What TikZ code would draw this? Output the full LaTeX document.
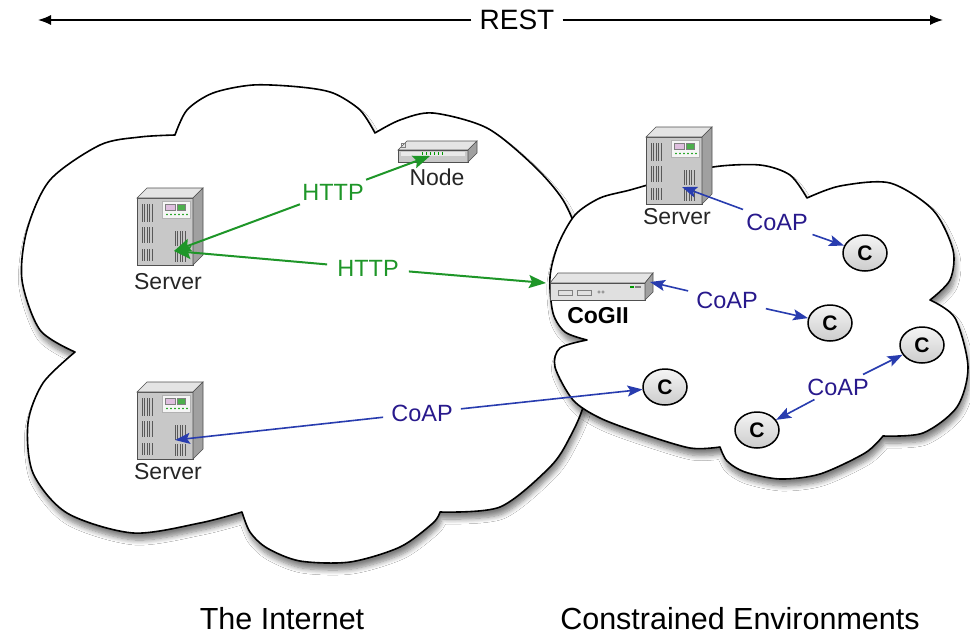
\documentclass[tikz,border=0pt]{standalone}
\usepackage{fontspec}
\setmainfont{Liberation Sans}
\usetikzlibrary{arrows.meta,shapes.geometric,shadows.blur}
\definecolor{httpgreen}{RGB}{30,150,40}
\definecolor{coapline}{RGB}{40,60,175}
\definecolor{coaptext}{RGB}{40,25,140}
\definecolor{srvfront}{RGB}{200,200,200}
\definecolor{srvtop}{RGB}{228,228,228}
\definecolor{srvside}{RGB}{160,160,160}
\definecolor{srvedge}{RGB}{80,80,80}
\tikzset{
  cloudshape/.style={draw=black, line width=1.6pt, fill=white, line join=round,
    blur shadow={shadow xshift=2pt, shadow yshift=-7pt, shadow blur steps=8, shadow opacity=50, shadow blur radius=5pt}},
  devlabel/.style={font=\fontsize{23}{26}\selectfont, text=black!85},
  httplab/.style={font=\fontsize{23.5}{26}\selectfont, text=httpgreen, inner xsep=10pt, inner ysep=4pt},
  coaplab/.style={font=\fontsize{23.5}{26}\selectfont, text=coaptext, inner xsep=8pt, inner ysep=4pt},
  garrow/.style={draw=httpgreen, line width=2pt, -{Stealth[length=17pt,width=13pt,inset=3pt]}},
  barrow/.style={draw=coapline, line width=1.6pt, -{Stealth[length=15pt,width=11pt,inset=3pt]}},
  restarrow/.style={draw=black, line width=1.4pt, -{Latex[length=13pt,width=10pt]}},
  captext/.style={font=\fontsize{30.5}{32}\selectfont, anchor=base, inner sep=0pt},
  cnode/.style={ellipse, draw=black, line width=1.5pt, top color=gray!8, bottom color=gray!40,
    minimum width=44pt, minimum height=36pt, inner sep=0pt, font=\bfseries\fontsize{21}{21}\selectfont},
  servericon/.pic={
    \filldraw[fill=srvfront, draw=srvedge, line width=0.6pt] (0,0) rectangle (56,67);
    \filldraw[fill=srvtop, draw=srvedge, line width=0.6pt] (0,0) -- (10,-10) -- (66,-10) -- (56,0) -- cycle;
    \filldraw[fill=srvside, draw=srvedge, line width=0.6pt] (56,0) -- (66,-10) -- (66,57) -- (56,67) -- cycle;
    \filldraw[fill=gray!8, draw=gray!60, line width=0.4pt] (25,3) rectangle (53,20);
    \filldraw[fill=violet!25, draw=gray, line width=0.4pt] (28,6) rectangle (38,12);
    \filldraw[fill=green!55!black!70, draw=gray, line width=0.4pt] (40,6) rectangle (48,12);
    \foreach \x in {30,34,...,50} \fill[green!60!black] (\x,16.5) circle[radius=0.9pt];
    \foreach \y/\h in {6/18, 29/16, 51/12} {
      \foreach \x in {5,7.5,10,12.5,15} \draw[black!65, line width=0.5pt] (\x,\y) -- ++(0,\h);
    }
    \foreach \y/\h in {33/15, 52/12} {
      \foreach \x in {38,40.5,43,45.5,48} \draw[black!65, line width=0.5pt] (\x,\y) -- ++(0,\h);
    }
  },
  routericon/.pic={
    \filldraw[fill=srvtop, draw=srvedge, line width=0.6pt] (0,9) -- (9,0) -- (79,0) -- (70,9) -- cycle;
    \filldraw[fill=srvfront, draw=srvedge, line width=0.6pt] (0,9) rectangle (70,21);
    \filldraw[fill=srvside, draw=srvedge, line width=0.6pt] (70,9) -- (79,0) -- (79,12) -- (70,21) -- cycle;
    \fill[white, opacity=0.6] (3,11) rectangle (67,15);
    \foreach \x in {24,28,...,44} \draw[green!60!black, line width=0.8pt] (\x,11) -- ++(0,3);
    \draw[gray, line width=0.4pt] (3,2.5) rectangle (7,6);
  },
  gatewayicon/.pic={
    \filldraw[fill=srvtop, draw=srvedge, line width=0.6pt] (0,10) -- (8,0) -- (103,0) -- (95,10) -- cycle;
    \filldraw[fill=black!12, draw=srvedge, line width=0.6pt] (0,10) rectangle (95,27);
    \filldraw[fill=srvside, draw=srvedge, line width=0.6pt] (95,10) -- (103,0) -- (103,19) -- (95,27) -- cycle;
    \draw[gray, line width=0.5pt] (8,17) rectangle (22,22) (27,17) rectangle (41,22);
    \draw[gray, line width=0.5pt] (49,19) circle[radius=1.3pt] (53,19) circle[radius=1.3pt];
    \fill[green!60!black] (80,12.5) rectangle (84,14.5);
    \fill[gray] (85,12.5) rectangle (91,14.5);
  }
}
\begin{document}
\begin{tikzpicture}[x=1pt,y=-1pt]
\useasboundingbox (0,0) rectangle (970,635);
\fill[white] (0,0) rectangle (970,635);

% REST arrow
\node[font=\fontsize{28}{30}\selectfont, inner xsep=8pt] (rest) at (517,20) {REST};
\coordinate (restL) at (38,20);
\coordinate (restR) at (943,20);
\draw[restarrow] (rest) -- (restL);
\draw[restarrow] (rest) -- (restR);

% The Internet cloud
\path[cloudshape] plot[smooth] coordinates {(175,135) (187,110) (213,93) (253,85) (300,87) (333,93) (360,110) (375,133)}
 -- plot[smooth] coordinates {(375,133) (400,120) (433,113) (487,128) (533,165) (563,200) (580,240) (592,290) (595,330)}
 -- plot[smooth] coordinates {(595,330) (585,400) (570,437) (550,467) (500,507) (440,512)}
 -- plot[smooth] coordinates {(440,512) (433,523) (400,547) (350,562) (300,561) (267,548) (250,532) (242,512)}
 -- plot[smooth] coordinates {(242,512) (200,523) (133,533) (67,513) (33,473) (28,423) (43,383) (75,352)}
 -- plot[smooth] coordinates {(75,352) (40,330) (22,280) (27,230) (50,180) (100,145) (140,137) (175,135)}
 -- cycle;

% Constrained environments cloud
\path[cloudshape] plot[smooth] coordinates {(587,340) (565,332) (553,313) (550,277) (558,245) (575,215) (600,198) (630,190) (665,180) (713,167) (760,165) (790,175) (807,198)}
 -- plot[smooth] coordinates {(807,198) (840,186) (890,183) (933,210) (953,250) (950,280) (930,300)}
 -- plot[smooth] coordinates {(930,300) (955,318) (968,367) (957,407) (923,433) (883,436)}
 -- plot[smooth] coordinates {(883,436) (865,453) (820,474) (780,479) (745,472) (727,461) (720,447)}
 -- plot[smooth] coordinates {(720,447) (690,448) (640,433) (600,418) (573,400) (555,367) (560,348) (587,340)}
 -- cycle;

% devices
\pic (srvA) at (137,198) {servericon};
\pic (srvB) at (137,392) {servericon};
\pic (srvC) at (646,137) {servericon};
\pic (rtr) at (398,141) {routericon};
\pic (gw) at (550,273) {gatewayicon};

\node[devlabel] (srvAlab) at (168,282) {Server};
\node[devlabel] (srvBlab) at (168,472) {Server};
\node[devlabel] (srvClab) at (677,217) {Server};
\node[devlabel] (rtrlab) at (437,177) {Node};
\node[devlabel, font=\bfseries\fontsize{23}{26}\selectfont, text=black] (gwlab) at (598,316) {CoGII};

% constrained nodes
\node[cnode] (c1) at (865,253) {C};
\node[cnode] (c2) at (830,323) {C};
\node[cnode] (c3) at (665,387) {C};
\node[cnode] (c4) at (922,345) {C};
\node[cnode] (c5) at (757,430) {C};

% connector end points on icons
\coordinate (srvAtip) at (174,251);
\coordinate (srvBtip) at (175,440);
\coordinate (srvCtip) at (682,187);
\coordinate (rtrtip) at (430,156);
\coordinate (gwgreen) at (546,283);
\coordinate (gwblue) at (650,282);

% HTTP links
\node[httplab] (http1) at (333,192) {HTTP};
\draw[garrow] (http1) -- (srvAtip);
\draw[garrow] (http1) -- (rtrtip);
\node[httplab] (http2) at (368,268) {HTTP};
\draw[garrow] (http2) -- (srvAtip);
\draw[garrow] (http2) -- (gwgreen);

% CoAP links
\node[coaplab] (coap1) at (422,413) {CoAP};
\draw[barrow] (coap1) -- (srvBtip);
\draw[barrow] (coap1) -- (c3);
\node[coaplab] (coap2) at (777,222) {CoAP};
\draw[barrow] (coap2) -- (srvCtip);
\draw[barrow] (coap2) -- (c1);
\node[coaplab] (coap3) at (727,300) {CoAP};
\draw[barrow] (coap3) -- (gwblue);
\draw[barrow] (coap3) -- (c2);
\node[coaplab] (coap4) at (838,387) {CoAP};
\draw[barrow] (coap4) -- (c4);
\draw[barrow] (coap4) -- (c5);

% captions
\node[captext] (capL) at (282,629) {The Internet};
\node[captext] (capR) at (740,629) {Constrained Environments};
\end{tikzpicture}
\end{document}
